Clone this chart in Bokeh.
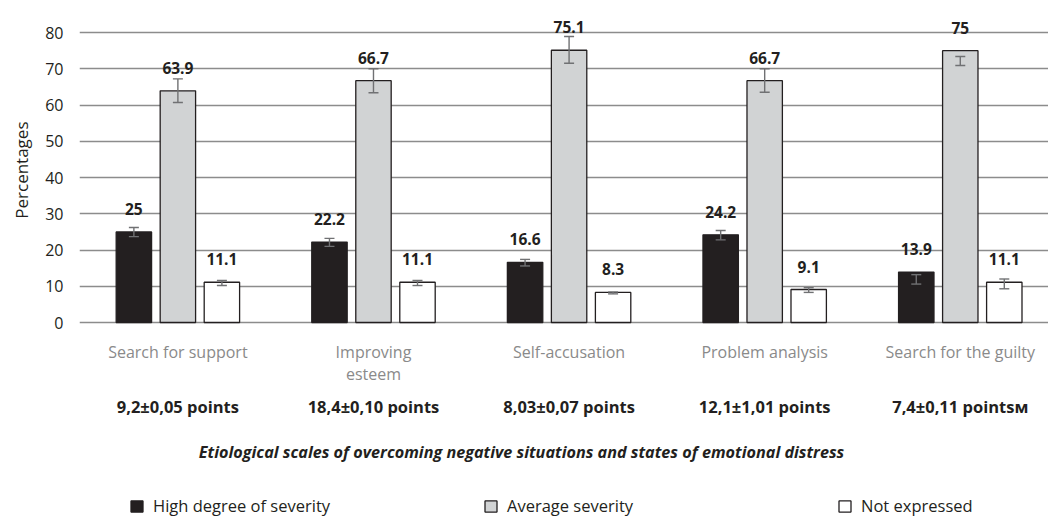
from bokeh.plotting import figure
from bokeh.models import (ColumnDataSource, Range1d, FixedTicker, Label, LabelSet,
                          Whisker, TeeHead, Legend, LegendItem, Title)
from bokeh.core.properties import value
from bokeh.embed import file_html
from bokeh.resources import INLINE

# ---------------- data ----------------
categories = ["Search for support", "Improving\nesteem", "Self-accusation",
              "Problem analysis", "Search for the guilty"]
score_labels = ["9,2±0,05 points", "18,4±0,10 points", "8,03±0,07 points",
                "12,1±1,01 points", "7,4±0,11 pointsм"]
series_names = ["High degree of severity", "Average severity", "Not expressed"]

high = [25, 22.2, 16.6, 24.2, 13.9]
average = [63.9, 66.7, 75.1, 66.7, 75]
not_expressed = [11.1, 11.1, 8.3, 9.1, 11.1]

high_err_low = [23.7, 21.0, 15.6, 22.8, 10.6]
high_err_high = [26.2, 23.2, 17.4, 25.4, 13.2]
average_err_low = [60.7, 63.4, 71.5, 63.5, 70.9]
average_err_high = [67.2, 70.0, 78.9, 70.0, 73.4]
not_err_low = [10.2, 10.2, 7.9, 8.3, 9.3]
not_err_high = [11.6, 11.6, 8.4, 9.6, 12.0]

y_ticks = [0, 10, 20, 30, 40, 50, 60, 70, 80]
y_title = "Percentages"
x_title = "Etiological scales of overcoming negative situations and states of emotional distress"

# ---------------- style ----------------
FONT = "Open Sans"
DARK = "#231f20"
fills = ["#231f20", "#d1d3d4", "#ffffff"]
offsets = [-0.225, 0.0, 0.225]
bar_w = 0.181
H = 518

p = figure(width=1048, height=H, output_backend="svg", toolbar_location=None,
           x_range=Range1d(-0.503, 4.451),
           y_range=Range1d(-(H - 322) / 3.625, 322 / 3.625),
           min_border_left=79, min_border_right=0, min_border_top=0,
           min_border_bottom=0)
p.outline_line_color = None
p.background_fill_color = None
p.border_fill_color = "white"

p.xaxis.visible = False
p.xgrid.visible = False
p.ygrid.ticker = FixedTicker(ticks=y_ticks)
p.ygrid.grid_line_color = "#8c8c8c"
p.ygrid.grid_line_width = 1.3

ya = p.yaxis[0]
ya.ticker = FixedTicker(ticks=y_ticks)
ya.axis_line_color = None
ya.major_tick_line_color = None
ya.minor_tick_line_color = None
ya.major_tick_out = 0
ya.major_tick_in = 0
ya.minor_tick_out = 0
ya.major_label_standoff = 16
ya.major_label_text_font = FONT
ya.major_label_text_font_size = "16px"
ya.major_label_text_color = DARK

# y-axis title, placed beside the 0-80 span
ytitle = Title(text=y_title, align="right", offset=121, standoff=17,
               vertical_align="middle",
               text_font=FONT, text_font_size="17px", text_font_style="normal",
               text_color=DARK)
p.add_layout(ytitle, "left")

series = [
    (high, high_err_low, high_err_high),
    (average, average_err_low, average_err_high),
    (not_expressed, not_err_low, not_err_high),
]

renderers = []
for k, (vals, lo, hi) in enumerate(series):
    xs = [i + offsets[k] for i in range(len(vals))]
    src = ColumnDataSource(dict(x=xs, top=vals, lo=lo, hi=hi,
                                lab=[f"{v:g}" for v in vals]))
    r = p.vbar(x="x", top="top", bottom=0, width=bar_w, source=src,
               fill_color=fills[k], line_color=DARK, line_width=1.3)
    renderers.append(r)
    w = Whisker(base="x", lower="lo", upper="hi", source=src, level="overlay",
                line_color="#707173", line_width=1.4,
                upper_head=TeeHead(size=10, line_color="#707173", line_width=1.4),
                lower_head=TeeHead(size=10, line_color="#707173", line_width=1.4))
    p.add_layout(w)
    ls = LabelSet(x="x", y="top", text="lab", source=src, y_offset=23,
                  text_align="center", text_baseline="middle",
                  text_font=value(FONT), text_font_style="bold",
                  text_font_size="15.5px", text_color=DARK)
    p.add_layout(ls)

# category labels and score labels below the bars
for i, (cat, sc) in enumerate(zip(categories, score_labels)):
    p.add_layout(Label(x=i, y=-4.97, text=cat, text_align="center",
                       text_baseline="top", text_font=FONT,
                       text_font_size="16px", text_color="#8a8a8a",
                       text_line_height=1.0))
    p.add_layout(Label(x=i, y=-23.2, text=sc, text_align="center",
                       text_baseline="middle", text_font=FONT,
                       text_font_style="bold", text_font_size="16.5px",
                       text_color=DARK))

p.add_layout(Label(x=1.757, y=-35.6, text=x_title, text_align="center",
                   text_baseline="middle", text_font=FONT,
                   text_font_style="bold italic", text_font_size="16.2px",
                   text_color=DARK))

legend = Legend(items=[LegendItem(label=n, renderers=[r])
                       for n, r in zip(series_names, renderers)],
                orientation="horizontal", location=(50, 1),
                glyph_width=15, glyph_height=14, label_standoff=9,
                label_width=330, label_height=14, spacing=0, padding=0, margin=0,
                border_line_color=None, background_fill_alpha=0,
                label_text_font=FONT, label_text_font_size="16.5px",
                label_text_color=DARK)
p.add_layout(legend)

open("out.html", "w").write(file_html(p, INLINE))
